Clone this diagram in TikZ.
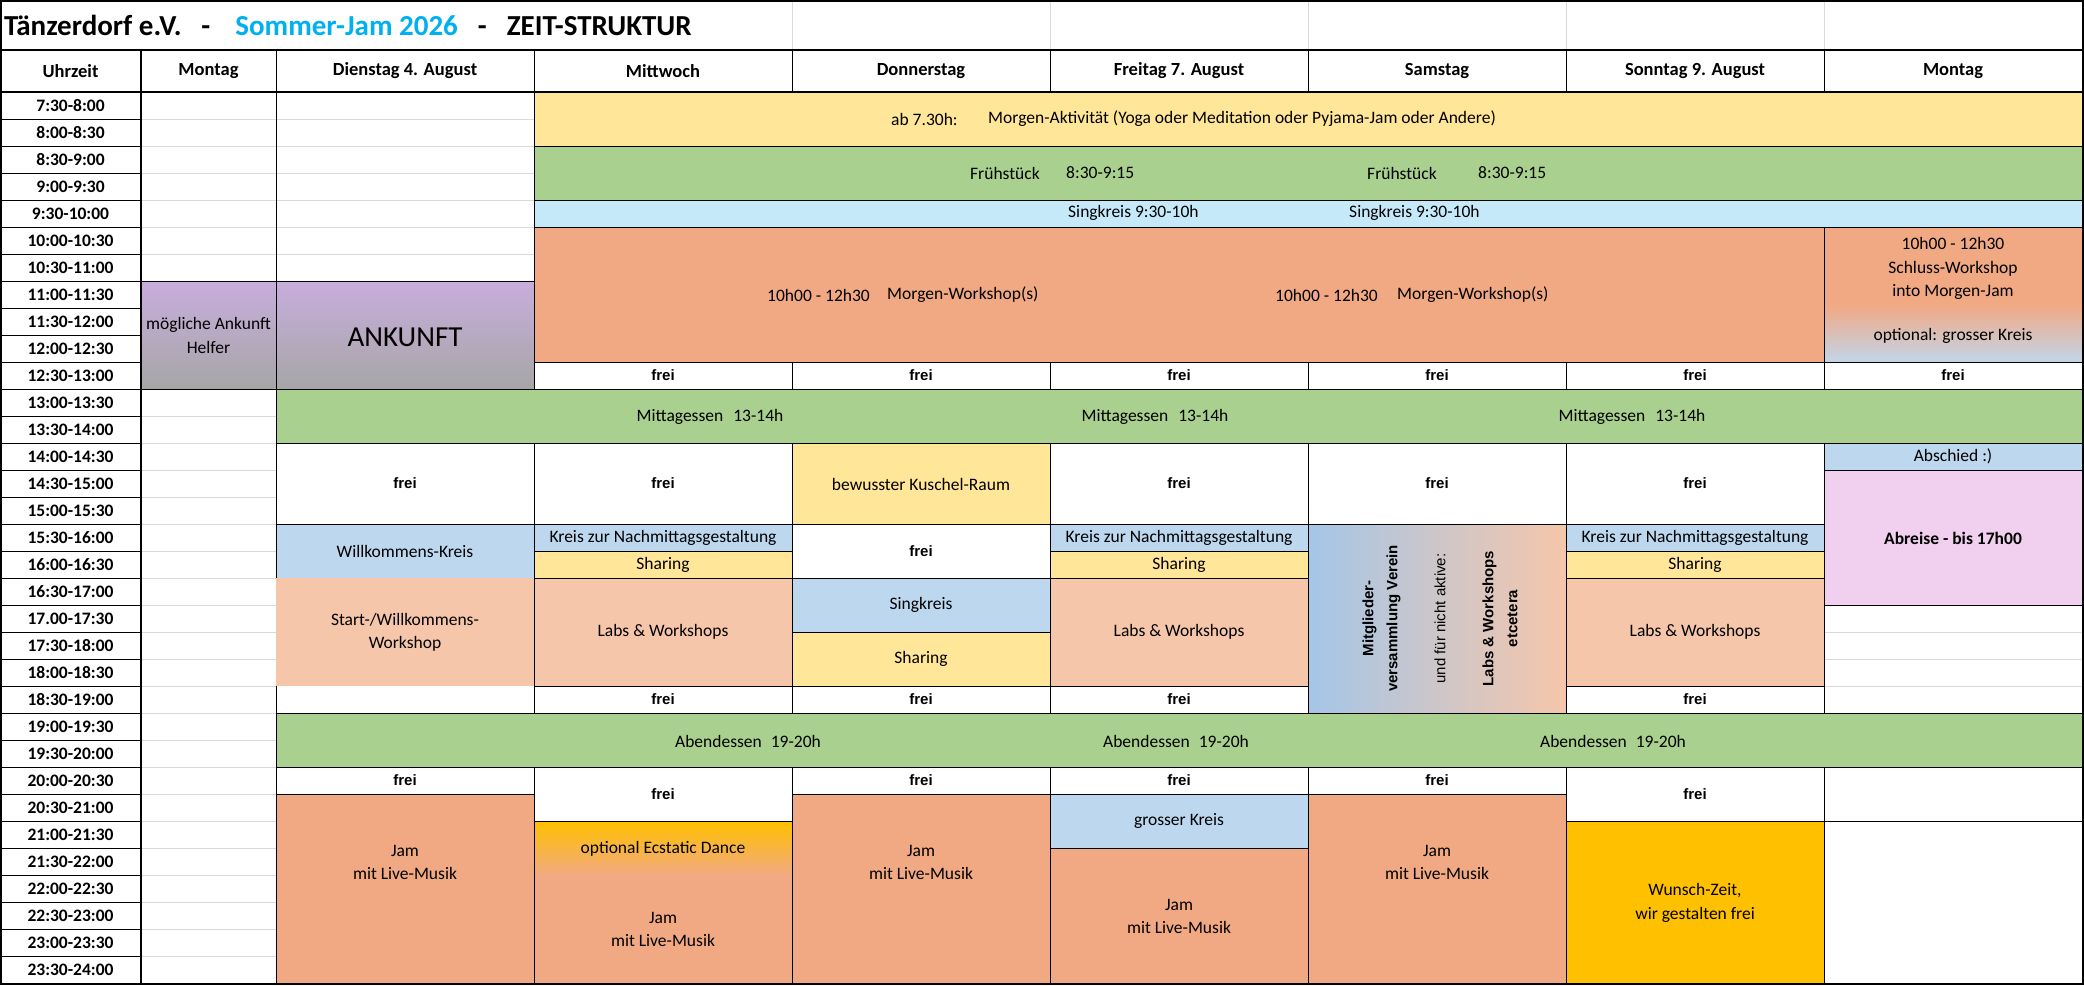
\documentclass[tikz,border=0pt]{standalone}
\usepackage{fontspec}
\setmainfont{Carlito}
\newfontfamily\arialfont{Liberation Sans}
\usetikzlibrary{calc}

\definecolor{jamYellow}{HTML}{FFE699}
\definecolor{jamGreen}{HTML}{A9D08E}
\definecolor{jamSky}{HTML}{C6E9FA}
\definecolor{jamSalmon}{HTML}{F1A983}
\definecolor{jamPeach}{HTML}{F6C6AA}
\definecolor{jamBlue}{HTML}{BDD7EE}
\definecolor{jamPink}{HTML}{F1CFEE}
\definecolor{jamGold}{HTML}{FFC000}
\definecolor{jamLilac}{HTML}{C8ADDD}
\definecolor{jamStone}{HTML}{A6A6A6}
\definecolor{jamSteel}{HTML}{A4C6E8}
\definecolor{jamFog}{HTML}{C2D5EA}
\definecolor{jamGrid}{HTML}{D9D9D9}
\definecolor{jamTitle}{HTML}{00B0F0}

\tikzset{
  box/.style={draw=black, line width=1pt},
  grid/.style={draw=jamGrid, line width=1pt},
  frame/.style={draw=black, line width=2.2pt},
  txt/.style={inner sep=0pt, align=center, font=\fontsize{17.5}{23.5}\selectfont},
  boldtxt/.style={txt, font=\bfseries\fontsize{17.5}{23.5}\selectfont},
  freitxt/.style={inner sep=0pt, font=\arialfont\bfseries\fontsize{15}{18}\selectfont},
  headtxt/.style={inner sep=0pt, font=\bfseries\fontsize{18.5}{22}\selectfont},
  timetxt/.style={inner sep=0pt, font=\bfseries\fontsize{17.5}{20}\selectfont},
}

\begin{document}
\begin{tikzpicture}[x=1pt,y=-1pt]
  \useasboundingbox (0,0) rectangle (2084,985);
  \fill[white] (0,0) rectangle (2084,985);
  % columns, rows
  \foreach \x [count=\i from 0] in {0,141,276,534,792,1050,1308,1566,1824,2082}
    \coordinate (c\i) at (\x,0);
  \foreach \j in {0,...,33}
    \coordinate (r\j) at (0,{92+27*\j});
  \coordinate (hd) at (0,50);

  % light grid in the empty cells
  \foreach \j in {1,...,32} \draw[grid] (c1|-r\j) -- (c2|-r\j);
  \foreach \j in {1,...,7} \draw[grid] (c2|-r\j) -- (c3|-r\j);
  \foreach \j in {20,21,22} \draw[grid] (c8|-r\j) -- (c9|-r\j);
  \foreach \i in {4,...,8} \draw[grid] (c\i) -- (c\i|-hd);

  % time column and header
  \foreach \j in {1,...,32} \draw[box] (c0|-r\j) -- (c1|-r\j);
  \foreach \i in {2,...,8} \draw[box] (c\i|-hd) -- (c\i|-r0);
  \draw[box] (c2|-r0) -- (c2|-r33);

  % morning
  \draw[box, fill=jamYellow] (c3|-r0) rectangle (c9|-r2);
  \draw[box, fill=jamGreen] (c3|-r2) rectangle (c9|-r4);
  \draw[box, fill=jamSky] (c3|-r4) rectangle (c9|-r5);
  \draw[box, fill=jamSalmon] (c3|-r5) rectangle (c8|-r10);
  \fill[jamSalmon] (c8|-r5) rectangle (c9|-r10);
  \shade[top color=jamSalmon, bottom color=jamFog] (1824,305) rectangle (c9|-r10);
  \draw[box] (c8|-r5) rectangle (c9|-r10);
  \shade[top color=jamLilac, bottom color=jamStone] (c1|-r7) rectangle (c3|-r11);
  \draw[box] (c1|-r7) rectangle (c2|-r11);
  \draw[box] (c2|-r7) rectangle (c3|-r11);

  % afternoon
  \draw[box, fill=jamGreen] (c2|-r11) rectangle (c9|-r13);
  \draw[box, fill=jamYellow] (c4|-r13) rectangle (c5|-r16);
  \draw[box, fill=jamBlue] (c8|-r13) rectangle (c9|-r14);
  \draw[box, fill=jamPink] (c8|-r14) rectangle (c9|-r19);
  \draw[box, fill=jamBlue] (c2|-r16) rectangle (c3|-r18);
  \fill[jamPeach] (c2|-r18) rectangle (c3|-r22);
  \foreach \a/\b in {3/4,5/6,7/8} {
    \draw[box, fill=jamBlue] (c\a|-r16) rectangle (c\b|-r17);
    \draw[box, fill=jamYellow] (c\a|-r17) rectangle (c\b|-r18);
    \draw[box, fill=jamPeach] (c\a|-r18) rectangle (c\b|-r22);
  }
  \draw[box, fill=jamBlue] (c4|-r18) rectangle (c5|-r20);
  \draw[box, fill=jamYellow] (c4|-r20) rectangle (c5|-r22);
  \shade[left color=jamSteel, right color=jamPeach] (c6|-r16) rectangle (c7|-r23);
  \draw[box] (c6|-r16) rectangle (c7|-r23);

  % evening
  \draw[box, fill=jamGreen] (c2|-r23) rectangle (c9|-r25);
  \foreach \a/\b in {2/3,4/5,6/7}
    \draw[box, fill=jamSalmon] (c\a|-r26) rectangle (c\b|-r33);
  \fill[jamSalmon] (c3|-r27) rectangle (c4|-r33);
  \shade[top color=jamGold, bottom color=jamSalmon] (c3|-r27) rectangle (792,876);
  \draw[box] (c3|-r27) rectangle (c4|-r33);
  \draw[box, fill=jamBlue] (c5|-r26) rectangle (c6|-r28);
  \draw[box, fill=jamSalmon] (c5|-r28) rectangle (c6|-r33);
  \draw[box, fill=jamGold] (c7|-r27) rectangle (c8|-r33);
  \draw[box] (c8|-r25) rectangle (c9|-r27);
  \draw[box] (c8|-r27) rectangle (c9|-r33);

  % free slots
  \foreach \a/\b/\p/\q in {3/4/10/11,4/5/10/11,5/6/10/11,6/7/10/11,7/8/10/11,8/9/10/11,
      2/3/13/16,3/4/13/16,5/6/13/16,6/7/13/16,7/8/13/16,4/5/16/18,
      3/4/22/23,4/5/22/23,5/6/22/23,7/8/22/23,
      2/3/25/26,4/5/25/26,5/6/25/26,6/7/25/26,3/4/25/27,7/8/25/27}
    \draw[box, fill=white] (c\a|-r\p) rectangle (c\b|-r\q)
      node[freitxt] (frei-\a-\p) at ($(c\a|-r\p)!.5!(c\b|-r\q)$) {frei};

  % heavy rules
  \draw[frame] (1.1,1.1) rectangle (2082.9,983.9);
  \draw[frame] (c0|-hd) -- (2084,50);
  \draw[frame] (c0|-r0) -- (2084,92);
  \draw[frame] (c1|-hd) -- (c1|-r33);

  % title, header, times
  \node[anchor=base west, inner sep=0pt, font=\bfseries\fontsize{29}{32}\selectfont] (title) at (4,35)
    {Tänzerdorf e.V.\hspace{20pt}-\hspace{25pt}\textcolor{jamTitle}{Sommer-Jam 2026}\hspace{20pt}-\hspace{20pt}ZEIT-STRUKTUR};
  \foreach \x/\d [count=\i] in {70.5/Uhrzeit,208.5/Montag,405/Dienstag 4. August,663/Mittwoch,
      921/Donnerstag,1179/Freitag 7. August,1437/Samstag,1695/Sonntag 9. August,1953/Montag}
    \node[headtxt] (head\i) at (\x,71) {\d};
  \foreach \t [count=\j from 0] in {7:30-8:00,8:00-8:30,8:30-9:00,9:00-9:30,9:30-10:00,
      10:00-10:30,10:30-11:00,11:00-11:30,11:30-12:00,12:00-12:30,12:30-13:00,
      13:00-13:30,13:30-14:00,14:00-14:30,14:30-15:00,15:00-15:30,15:30-16:00,
      16:00-16:30,16:30-17:00,17.00-17:30,17:30-18:00,18:00-18:30,18:30-19:00,
      19:00-19:30,19:30-20:00,20:00-20:30,20:30-21:00,21:00-21:30,21:30-22:00,
      22:00-22:30,22:30-23:00,23:00-23:30,23:30-24:00}
    \node[timetxt] (time\j) at (70.5,{105.5+27*\j}) {\t};

  % morning texts
  \node[txt, anchor=west] (ab) at (891,119) {ab 7.30h:};
  \node[txt, anchor=west] (aktiv) at (988,119) {Morgen-Aktivität (Yoga oder Meditation oder Pyjama-Jam oder Andere)};
  \foreach \x/\y [count=\k] in {970/1066,1367/1478} {
    \node[txt, anchor=west] (fruh\k) at (\x,173) {Frühstück};
    \node[txt, anchor=west] (fruhzeit\k) at (\y,173) {8:30-9:15};
  }
  \foreach \x [count=\k] in {1068,1349}
    \node[txt, anchor=west] (sing\k) at (\x,213) {Singkreis 9:30-10h};
  \foreach \x/\y [count=\k] in {767/887,1275/1397} {
    \node[txt, anchor=west] (wszeit\k) at (\x,295) {10h00 - 12h30};
    \node[txt, anchor=west] (ws\k) at (\y,295) {Morgen-Workshop(s)};
  }
  \node[txt] (schluss) at (1953,268.5) {10h00 - 12h30\\Schluss-Workshop\\into Morgen-Jam};
  \node[txt] (optkreis) at (1953,336) {optional: grosser Kreis};
  \node[txt] (helfer) at (208.5,335.5) {mögliche Ankunft\\Helfer};
  \node[txt, font=\fontsize{29}{32}\selectfont] (ankunft) at (405,337) {ANKUNFT};

  % afternoon texts
  \foreach \x [count=\k] in {710,1155,1632}
    \node[txt] (mittag\k) at (\x,417) {Mittagessen\hspace{10pt}13-14h};
  \node[txt] (kuschel) at (921,484) {bewusster Kuschel-Raum};
  \node[txt] (abschied) at (1953,456.5) {Abschied :)};
  \node[boldtxt] (abreise) at (1953,538) {Abreise - bis 17h00};
  \node[txt] (willkommen) at (405,551) {Willkommens-Kreis};
  \foreach \x [count=\k] in {663,1179,1695} {
    \node[txt] (nachm\k) at (\x,537.5) {Kreis zur Nachmittagsgestaltung};
    \node[txt] (share\k) at (\x,564.5) {Sharing};
    \node[txt] (labs\k) at (\x,632) {Labs \& Workshops};
  }
  \node[txt] (start) at (405,632.5) {Start-/Willkommens-\\Workshop};
  \node[txt] (singdo) at (921,605) {Singkreis};
  \node[txt] (sharedo) at (921,659) {Sharing};
  \node[rotate=90, align=center, inner sep=0pt, font=\arialfont\fontsize{15}{24}\selectfont] (verein) at (1440,618.5)
    {\textbf{Mitglieder-}\\\textbf{versammlung Verein}\\[24pt]und für nicht aktive:\\[24pt]\textbf{Labs \& Workshops}\\\textbf{etcetera}};

  % evening texts
  \foreach \x [count=\k] in {748,1176,1613}
    \node[txt] (abend\k) at (\x,741) {Abendessen\hspace{9pt}19-20h};
  \foreach \x [count=\k] in {405,921,1437}
    \node[txt] (jam\k) at (\x,862.5) {Jam\\mit Live-Musik};
  \node[txt] (ecstatic) at (663,849) {optional Ecstatic Dance};
  \node[txt] (jammi) at (663,929.5) {Jam\\mit Live-Musik};
  \node[txt] (grosser) at (1179,821) {grosser Kreis};
  \node[txt] (jamfr) at (1179,916.5) {Jam\\mit Live-Musik};
  \node[txt] (wunsch) at (1695,903) {Wunsch-Zeit,\\wir gestalten frei};
\end{tikzpicture}
\end{document}
